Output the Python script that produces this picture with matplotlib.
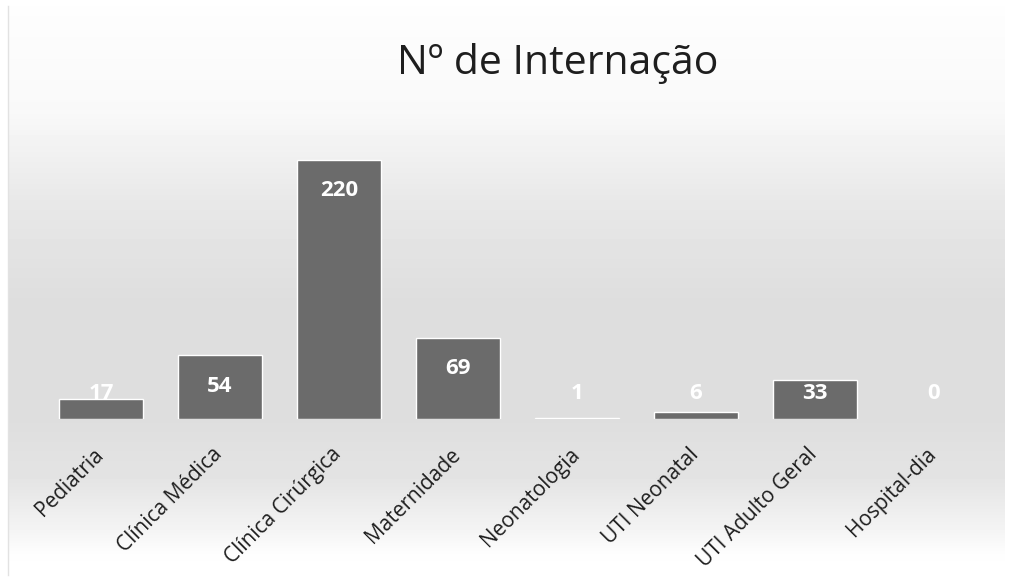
import numpy as np
import matplotlib
matplotlib.use("Agg")
import matplotlib.pyplot as plt
from matplotlib.transforms import ScaledTranslation

categories = ["Pediatria", "Clínica Médica", "Clínica Cirúrgica", "Maternidade",
              "Neonatologia", "UTI Neonatal", "UTI Adulto Geral", "Hospital-dia"]
values = [17, 54, 220, 69, 1, 6, 33, 0]
title = "Nº de Internação"

plt.rcParams['font.family'] = ['Open Sans', 'DejaVu Sans']

W, H = 1011, 581
fig = plt.figure(figsize=(W / 100, H / 100), dpi=100)
fig.patch.set_facecolor('white')

# background gradient
bg = fig.add_axes([0, 0, 1, 1], zorder=0)
ys = np.arange(H)
stops_y = [0, 110, 200, 300, 420, 480, 525, 555, 581]
stops_v = [0.995, 0.975, 0.91, 0.87, 0.87, 0.895, 0.95, 0.995, 1.0]
prof = np.interp(ys, stops_y, stops_v)
img = np.tile(prof[:, None], (1, W))
img[:, :8] = 1.0
img[:, W - 6:] = 1.0
img[:6, :] = 1.0
bg.imshow(img, cmap='gray', vmin=0, vmax=1, aspect='auto', extent=[0, W, H, 0], interpolation='bilinear')
bg.plot([8, 8], [6, H - 6], color='#e2e2e2', lw=1)
bg.set_xlim(0, W)
bg.set_ylim(H, 0)
bg.axis('off')

ax = fig.add_axes([41.5 / W, 162 / H, 952 / W, 294 / H], zorder=1)
ax.patch.set_alpha(0)
x = np.arange(len(categories))
edges = ['white' if v > 0 else 'none' for v in values]
ax.bar(x, values, width=0.7, color='#6b6b6b', edgecolor=edges, linewidth=1.0)
ax.set_xlim(-0.5, len(categories) - 0.5)
ax.set_ylim(0, 250)
for s in ax.spines.values():
    s.set_visible(False)
ax.set_yticks([])
ax.set_xticks(x)
ax.set_xticklabels(categories, rotation=45, ha='right', va='top', rotation_mode='anchor',
                   fontsize=15, color='#1e1e1e')
ax.tick_params(axis='x', length=0, pad=18)
shift = ScaledTranslation(-8 / 100, 0, fig.dpi_scale_trans)
for lab in ax.get_xticklabels():
    lab.set_transform(lab.get_transform() + shift)

for xi, v in zip(x, values):
    ly = max(v - 26, 22)
    ax.text(xi, ly, str(v), ha='center', va='center', color='white',
            fontsize=16, fontweight='bold')

fig.text(0.552, 0.891, title, ha='center', va='center', fontsize=29.5, color='#1e1e1e')

fig.savefig('out.png', dpi=100)
